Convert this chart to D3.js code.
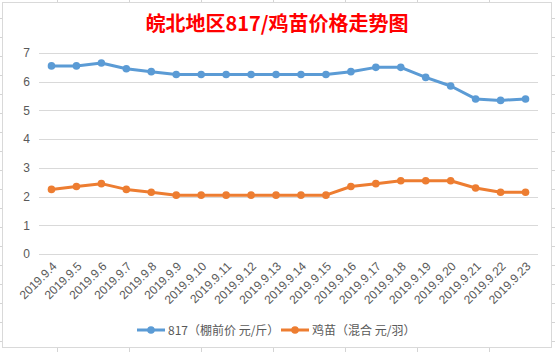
<!DOCTYPE html>
<html lang="zh">
<head>
    <meta charset="UTF-8">
    <title>皖北地区817/鸡苗价格走势图</title>
    <style>
    body { margin: 0; background: #fff; }
    svg { display: block; font-family: "Noto Sans CJK SC", "Noto Sans", sans-serif; }
    .grid line { stroke: #d9d9d9; stroke-width: 1; shape-rendering: crispEdges; }
    .axis text { fill: #595959; font-size: 12px; }
    .cell { stroke: #d4d4d4; stroke-width: 1; shape-rendering: crispEdges; }
    </style>
</head>
<body>
<script src="https://cdnjs.cloudflare.com/ajax/libs/d3/7.8.5/d3.min.js"></script>
<script>
// data
let dates = ['2019.9.4', '2019.9.5', '2019.9.6', '2019.9.7', '2019.9.8', '2019.9.9', '2019.9.10',
    '2019.9.11', '2019.9.12', '2019.9.13', '2019.9.14', '2019.9.15', '2019.9.16', '2019.9.17',
    '2019.9.18', '2019.9.19', '2019.9.20', '2019.9.21', '2019.9.22', '2019.9.23'];
let price817 = [6.55, 6.55, 6.65, 6.45, 6.35, 6.25, 6.25, 6.25, 6.25, 6.25, 6.25, 6.25, 6.35, 6.5,
    6.5, 6.15, 5.85, 5.4, 5.35, 5.4];
let chickPrice = [2.25, 2.35, 2.45, 2.25, 2.15, 2.05, 2.05, 2.05, 2.05, 2.05, 2.05, 2.05, 2.35, 2.45,
    2.55, 2.55, 2.55, 2.3, 2.15, 2.15];
let yTicks = [0, 1, 2, 3, 4, 5, 6, 7];
let seriesNames = ['817（棚前价 元/斤）', '鸡苗（混合 元/羽）'];
let colors = ['#5b9bd5', '#ed7d31'];

let width = 555, height = 352;

let svg = d3.select('body').append('svg')
    .attr('width', width)
    .attr('height', height);

// spreadsheet cell lines around the chart
let colLines = [57.5, 129.5, 201.5, 273.5, 345.5, 417.5, 489.5];
let rowLines = [18.5, 37.5, 56.5, 75.5, 94.5, 113.5, 132.5, 151.5, 170.5, 189.5, 208.5, 227.5, 246.5, 265.5, 284.5, 303.5, 322.5, 341.5];
svg.selectAll('.colLine').data(colLines).enter().append('line')
    .attr('class', 'cell')
    .attr('x1', d => d).attr('x2', d => d)
    .attr('y1', 0).attr('y2', height);
svg.selectAll('.rowLine').data(rowLines).enter().append('line')
    .attr('class', 'cell')
    .attr('x1', 0).attr('x2', width)
    .attr('y1', d => d).attr('y2', d => d);

// chart box
svg.append('rect')
    .attr('x', 2.5).attr('y', 2.5)
    .attr('width', 549).attr('height', 345)
    .attr('fill', '#fff')
    .attr('stroke', '#d9d9d9');

let margin = {left: 39, right: 17, top: 53, bottom: 98};
let x = d3.scaleBand()
    .domain(dates)
    .range([margin.left, width - margin.right]);
let y = d3.scaleLinear()
    .domain([0, 7])
    .range([height - margin.bottom, margin.top]);

// title
svg.append('text')
    .attr('x', 277)
    .attr('y', 31)
    .attr('text-anchor', 'middle')
    .attr('fill', '#ff0000')
    .attr('font-size', 20)
    .attr('font-weight', 'bold')
    .text('皖北地区817/鸡苗价格走势图');

// horizontal gridlines
svg.append('g')
    .attr('class', 'grid')
    .attr('transform', `translate(${margin.left}, 0)`)
    .call(d3.axisLeft(y).tickValues(yTicks).tickSize(-(width - margin.left - margin.right)).tickFormat(''))
    .call(g => g.select('.domain').remove());

// y axis labels
svg.append('g')
    .attr('class', 'axis')
    .attr('transform', `translate(${margin.left}, 0)`)
    .call(d3.axisLeft(y).tickValues(yTicks).tickSize(0).tickPadding(9).tickFormat(d3.format('d')))
    .call(g => g.select('.domain').remove())
    .call(g => g.selectAll('text').attr('font-size', 12));

// x axis labels
svg.append('g')
    .attr('class', 'axis')
    .attr('transform', `translate(0, ${height - margin.bottom})`)
    .call(d3.axisBottom(x).tickSize(0).tickFormat(d => d))
    .call(g => g.select('.domain').remove())
    .call(g => g.selectAll('text')
        .attr('text-anchor', 'end')
        .attr('font-size', 12)
        .attr('dy', 0)
        .attr('y', 0)
        .attr('transform', 'translate(6, 13) rotate(-45)'));

// lines
let allSeries = [price817, chickPrice];
let line = d3.line()
    .x((d, i) => x(dates[i]) + x.bandwidth() / 2)
    .y(d => y(d));

allSeries.forEach((values, k) => {
    svg.append('path')
        .datum(values)
        .attr('fill', 'none')
        .attr('stroke', colors[k])
        .attr('stroke-width', 3)
        .attr('stroke-linejoin', 'round')
        .attr('d', line);
    svg.selectAll('.dot' + k)
        .data(values)
        .enter()
        .append('circle')
        .attr('class', 'dot' + k)
        .attr('cx', (d, i) => x(dates[i]) + x.bandwidth() / 2)
        .attr('cy', d => y(d))
        .attr('r', 3.8)
        .attr('fill', colors[k]);
});

// legend
let legendX = [137, 281];
let legend = svg.selectAll('.legendItem')
    .data(seriesNames)
    .enter()
    .append('g')
    .attr('class', 'legendItem')
    .attr('transform', (d, i) => `translate(${legendX[i]}, 330)`);
legend.append('line')
    .attr('x1', 0).attr('x2', 28)
    .attr('stroke', (d, i) => colors[i])
    .attr('stroke-width', 3);
legend.append('circle')
    .attr('cx', 14).attr('r', 3.8)
    .attr('fill', (d, i) => colors[i]);
legend.append('text')
    .attr('x', 31)
    .attr('y', 4.5)
    .attr('fill', '#595959')
    .attr('font-size', 12)
    .text(d => d);
</script>
</body>
</html>
